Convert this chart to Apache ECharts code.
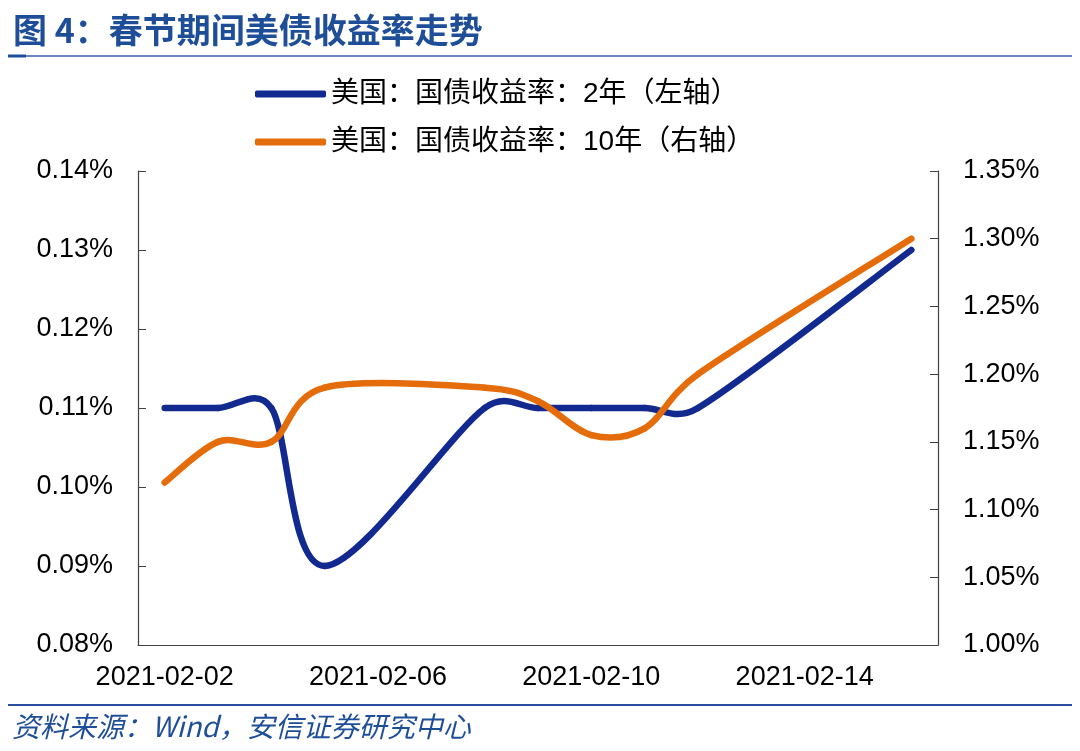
<!DOCTYPE html>
<html>
<head>
<meta charset="utf-8">
<script src="https://cdn.jsdelivr.net/npm/echarts@6/dist/echarts.min.js"></script>
<style>
html,body{margin:0;padding:0;background:#fff;}
#chart{width:1080px;height:751px;}
</style>
</head>
<body>
<div id="chart"></div>
<script>
// ---- data ----
const dates = ['2021-02-02','2021-02-03','2021-02-04','2021-02-05','2021-02-06','2021-02-07','2021-02-08',
  '2021-02-09','2021-02-10','2021-02-11','2021-02-12','2021-02-13','2021-02-14','2021-02-15','2021-02-16'];
const yield2y = [0.11, 0.11, 0.11, 0.09, null, null, 0.11, 0.11, 0.11, 0.11, 0.11, null, null, null, 0.13];
const yield10y = [1.12, 1.15, 1.15, 1.19, null, null, 1.19, 1.18, 1.155, 1.16, 1.20, null, null, null, 1.30];
const leftTicks = [0.08, 0.14, 0.01];   // min, max, interval
const rightTicks = [1.00, 1.35, 0.05];
const titleText = '图 4：春节期间美债收益率走势';
const sourceText = '资料来源：Wind，安信证券研究中心';
const name2y = '美国：国债收益率：2年（左轴）';
const name10y = '美国：国债收益率：10年（右轴）';

const FONT = '"Liberation Sans", Arial, "Noto Sans CJK SC", sans-serif';
const chart = echarts.init(document.getElementById('chart'), null, {renderer: 'canvas'});
const axisColor = '#404040';
const BLUE = '#12298F', ORANGE = '#E46C0A';

function seriesData(values) {
  const out = [];
  values.forEach((v, i) => { if (v !== null) out.push([i, v]); });
  return out;
}

// Excel-style smoothed line (Catmull-Rom 1/6, control arm capped at half the segment)
function smoothRenderer(values, color) {
  function arm(dx, dy, segLen) {
    let vx = dx / 6, vy = dy / 6;
    const len = Math.hypot(vx, vy), cap = segLen / 2;
    if (len > cap && len > 0) { vx *= cap / len; vy *= cap / len; }
    return [vx, vy];
  }
  return function (params, api) {
    if (params.dataIndex !== 0) return null;
    const pts = seriesData(values).map(d => api.coord(d));
    const children = [];
    for (let i = 0; i < pts.length - 1; i++) {
      const p0 = pts[i - 1] || pts[i];
      const p1 = pts[i];
      const p2 = pts[i + 1];
      const p3 = pts[i + 2] || pts[i + 1];
      const seg = Math.hypot(p2[0] - p1[0], p2[1] - p1[1]);
      const a1 = arm(p2[0] - p0[0], p2[1] - p0[1], seg);
      const a2 = arm(p3[0] - p1[0], p3[1] - p1[1], seg);
      children.push({
        type: 'bezierCurve',
        shape: {
          x1: p1[0], y1: p1[1], x2: p2[0], y2: p2[1],
          cpx1: p1[0] + a1[0], cpy1: p1[1] + a1[1],
          cpx2: p2[0] - a2[0], cpy2: p2[1] - a2[1]
        },
        style: {stroke: color, lineWidth: 6.5, fill: null, lineCap: 'round', lineJoin: 'round'}
      });
    }
    return {type: 'group', children: children};
  };
}

chart.setOption({
  backgroundColor: '#fff',
  animation: false,
  title: {
    text: titleText,
    left: 8, top: 8,
    textStyle: {fontFamily: '"Noto Sans CJK SC", sans-serif', fontSize: 34, fontWeight: 'bold', color: '#1F4E99'}
  },
  graphic: [
    {type: 'line', shape: {x1: 8, y1: 56, x2: 1072, y2: 56}, style: {stroke: '#6a86c4', lineWidth: 2}},
    {type: 'line', shape: {x1: 8, y1: 56, x2: 26, y2: 56}, style: {stroke: '#1F4E99', lineWidth: 3}},
    {type: 'line', shape: {x1: 8, y1: 705, x2: 1072, y2: 705}, style: {stroke: '#2B4F9E', lineWidth: 2}},
    {type: 'text', left: 12, top: 712,
      style: {text: sourceText, font: 'italic 28px "Noto Sans CJK SC", sans-serif', fill: '#1F4E99'}}
  ],
  legend: {
    orient: 'vertical',
    left: 250, top: 74,
    itemWidth: 71, itemHeight: 7,
    itemGap: 18,
    icon: 'roundRect',
    textStyle: {fontFamily: FONT, fontSize: 28, color: '#000', lineHeight: 30},
    data: [
      {name: name2y, itemStyle: {color: BLUE}},
      {name: name10y, itemStyle: {color: ORANGE}}
    ]
  },
  grid: {left: 138, right: 142, top: 171, bottom: 106},
  xAxis: {
    type: 'category',
    data: dates,
    boundaryGap: true,
    axisLine: {lineStyle: {color: axisColor, width: 1.2}},
    axisTick: {inside: true, length: 9, interval: 3, lineStyle: {color: axisColor}},
    axisLabel: {interval: 3, margin: 19, fontFamily: FONT, fontSize: 27, color: '#000'},
    splitLine: {show: false}
  },
  yAxis: [
    {
      type: 'value', min: leftTicks[0], max: leftTicks[1], interval: leftTicks[2],
      axisLine: {show: true, lineStyle: {color: axisColor, width: 1.2}},
      axisTick: {show: true, inside: true, length: 8, lineStyle: {color: axisColor}},
      axisLabel: {margin: 25, fontFamily: FONT, fontSize: 27, color: '#000',
        formatter: v => v.toFixed(2) + '%'},
      splitLine: {show: false}
    },
    {
      type: 'value', min: rightTicks[0], max: rightTicks[1], interval: rightTicks[2],
      position: 'right',
      axisLine: {show: true, lineStyle: {color: axisColor, width: 1.2}},
      axisTick: {show: true, inside: true, length: 8, lineStyle: {color: axisColor}},
      axisLabel: {margin: 25, fontFamily: FONT, fontSize: 27, color: '#000',
        formatter: v => v.toFixed(2) + '%'},
      splitLine: {show: false}
    }
  ],
  series: [
    {
      name: name2y, type: 'custom', yAxisIndex: 0, data: seriesData(yield2y),
      encode: {x: 0, y: 1},
      itemStyle: {color: BLUE},
      renderItem: smoothRenderer(yield2y, BLUE)
    },
    {
      name: name10y, type: 'custom', yAxisIndex: 1, data: seriesData(yield10y),
      encode: {x: 0, y: 1},
      itemStyle: {color: ORANGE},
      renderItem: smoothRenderer(yield10y, ORANGE)
    }
  ]
});
</script>
</body>
</html>
